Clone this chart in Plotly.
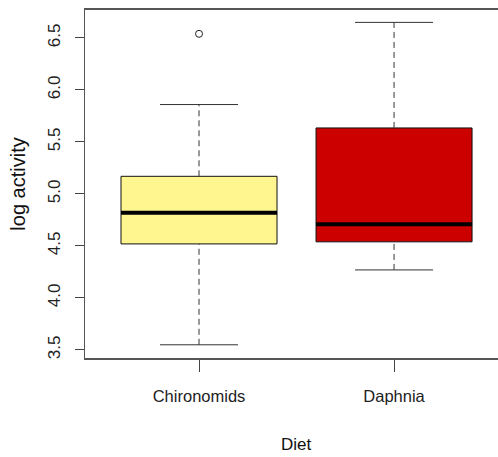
import plotly.graph_objects as go

# ---- data ----
categories = ["Chironomids", "Daphnia"]
positions = [1, 2]
q1 = [4.52, 4.54]
medians = [4.82, 4.71]
q3 = [5.17, 5.635]
lower_whisker = [3.55, 4.27]
upper_whisker = [5.86, 6.65]
outlier_cat = ["Chironomids"]
outlier_vals = [6.54]
fill_colors = ["#FFF68F", "#CD0000"]
y_ticks = [3.5, 4.0, 4.5, 5.0, 5.5, 6.0, 6.5]
y_ticklabels = ["3.5", "4.0", "4.5", "5.0", "5.5", "6.0", "6.5"]

BOX_W = 0.8
CAP_W = 0.4

fig = go.Figure()

for i, cat in enumerate(categories):
    x = positions[i]
    # box body
    fig.add_trace(go.Box(
        x=[x], q1=[q1[i]], median=[medians[i]], q3=[q3[i]],
        lowerfence=[q1[i]], upperfence=[q3[i]],
        width=BOX_W, whiskerwidth=0,
        fillcolor=fill_colors[i],
        line=dict(color="#111111", width=1),
        boxpoints=False, hoverinfo="skip", showlegend=False,
    ))
    # dashed whiskers
    for a, b in [(q3[i], upper_whisker[i]), (lower_whisker[i], q1[i])]:
        fig.add_trace(go.Scatter(
            x=[x, x], y=[a, b], mode="lines",
            line=dict(color="#333333", width=1, dash="6px,4px"),
            hoverinfo="skip", showlegend=False,
        ))
    # caps
    for v in [upper_whisker[i], lower_whisker[i]]:
        fig.add_trace(go.Scatter(
            x=[x - CAP_W / 2, x + CAP_W / 2], y=[v, v], mode="lines",
            line=dict(color="#333333", width=1),
            hoverinfo="skip", showlegend=False,
        ))
    # thick median
    fig.add_trace(go.Scatter(
        x=[x - BOX_W / 2, x + BOX_W / 2], y=[medians[i], medians[i]],
        mode="lines", line=dict(color="black", width=4),
        hoverinfo="skip", showlegend=False,
    ))

# outliers
fig.add_trace(go.Scatter(
    x=[positions[categories.index(c)] for c in outlier_cat], y=outlier_vals,
    mode="markers",
    marker=dict(symbol="circle-open", size=7, color="#222222", line=dict(width=1)),
    hoverinfo="skip", showlegend=False,
))

font_family = "Liberation Sans, Arial, sans-serif"

fig.update_layout(
    width=498, height=457,
    margin=dict(l=85, r=0, t=10, b=99),
    paper_bgcolor="white", plot_bgcolor="white",
    font=dict(family=font_family, color="#222222"),
    xaxis=dict(
        range=[0.4154, 2.533],
        tickmode="array", tickvals=positions, ticktext=categories,
        ticks="outside", ticklen=12, tickcolor="#444444", tickwidth=1,
        ticklabelstandoff=10,
        tickfont=dict(size=16.5, family=font_family, color="#222222"),
        showgrid=False, zeroline=False,
        showline=True, linecolor="#555555", linewidth=2, mirror=True,
    ),
    yaxis=dict(
        range=[3.423, 6.769],
        tickmode="array", tickvals=y_ticks, ticktext=y_ticklabels,
        tickangle=-90,
        ticks="outside", ticklen=9, tickcolor="#444444", tickwidth=1,
        ticklabelstandoff=8,
        tickfont=dict(size=17, family=font_family, color="#222222"),
        showgrid=False, zeroline=False,
        showline=True, linecolor="#555555", linewidth=1, mirror=False,
        title=dict(text="log activity", standoff=14,
                   font=dict(size=20, family=font_family, color="#111111")),
    ),
    annotations=[dict(
        text="Diet", x=1.5, xref="x", y=0, yref="paper", showarrow=False,
        yanchor="middle", yshift=-(444 - 358),
        font=dict(size=17, family=font_family, color="#111111"),
    )],
)

fig.write_html("out.html")
